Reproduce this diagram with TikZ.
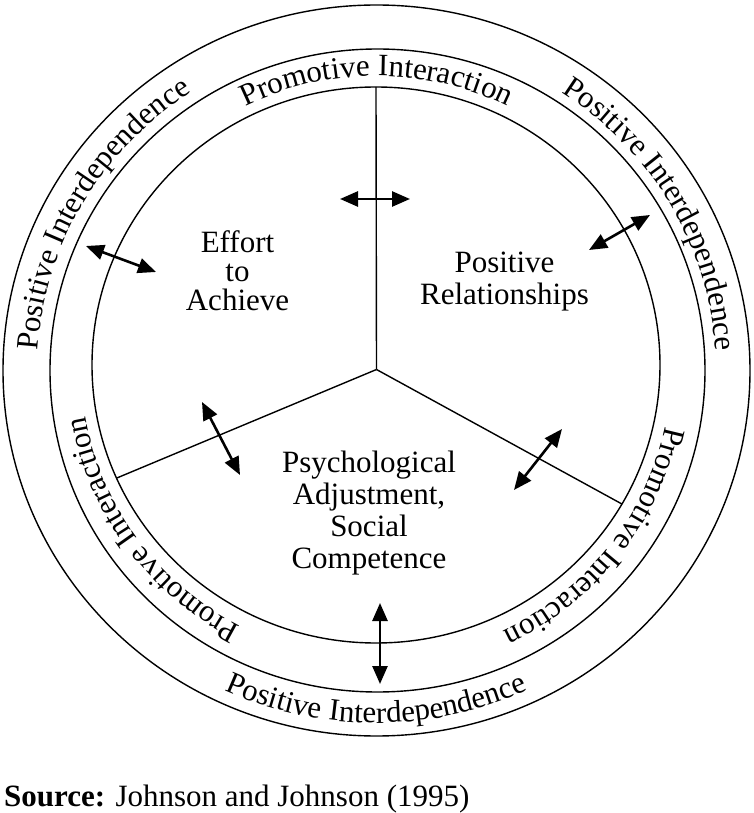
\documentclass[tikz,border=0pt]{standalone}
\usepackage{fontspec}
\setmainfont{Liberation Serif}
\usetikzlibrary{arrows.meta,decorations.text}

\newcommand{\labelsize}{\fontsize{31}{32}\selectfont}

\begin{document}
\begin{tikzpicture}[
    x=1pt, y=1pt,
    ring/.style={line width=1.4pt},
    spoke/.style={line width=1.4pt},
    twoway/.style={{Triangle[length=18pt,width=15pt]}-{Triangle[length=18pt,width=15pt]}, line width=2.6pt},
    blocktext/.style={align=center, font=\labelsize, inner sep=0pt},
    ringtext/.style={decorate, decoration={text along path, text align=center, text={|\labelsize|#1}}},
]
\useasboundingbox (-376.5,-442.5) rectangle (377.5,370.5);

% ── Rings ──
\draw[ring] (0,0) ellipse [x radius=373.5, y radius=365.5];
\draw[ring] (1,0) ellipse [x radius=327.5, y radius=321.5];
\draw[ring] (-0.5,5.5) ellipse [x radius=284, y radius=278];

% ── Spokes ──
\coordinate (hub) at (0,1);
\coordinate (spokeN) at (-0.5,283.5);
\coordinate (spokeSW) at (-259.9,-107.6);
\coordinate (spokeSE) at (245.4,-133.5);
\draw[spoke] (hub) -- (spokeN);
\draw[spoke] (hub) -- (spokeSW);
\draw[spoke] (hub) -- (spokeSE);

% ── Outer ring text ──
\path[ringtext=Positive Interdependence] (200:339.5 and 331.5) arc[start angle=200, end angle=100, x radius=339.5, y radius=331.5];
\path[ringtext=Positive Interdependence] (80:339.5 and 331.5) arc[start angle=80, end angle=-20, x radius=339.5, y radius=331.5];
\path[ringtext=Positive Interdependence] (220:360.5 and 352.5) arc[start angle=220, end angle=320, x radius=360.5, y radius=352.5];

% ── Middle ring text ──
\path[ringtext=Promotive Interaction, shift={(0,3)}] (140:295 and 291.5) arc[start angle=140, end angle=40, x radius=295, y radius=291.5];
\path[ringtext=Promotive Interaction, shift={(0,3)}] (266:295 and 291.5) arc[start angle=266, end angle=166, x radius=295, y radius=291.5];
\path[ringtext=Promotive Interaction, shift={(0,3)}] (12:295 and 291.5) arc[start angle=12, end angle=-88, x radius=295, y radius=291.5];

% ── Sectors ──
\node[blocktext, font=\fontsize{31}{29}\selectfont] (effort) at (-139,99.5) {Effort\\to\\Achieve};
\node[blocktext] (relations) at (128,89) {Positive\\Relationships};
\node[blocktext] (psych) at (-7.5,-142.5) {Psychological\\Adjustment,\\Social\\Competence};

% ── Arrows ──
\coordinate (topW) at (-36.5,171.5);   \coordinate (topE) at (33.5,171.5);
\coordinate (nwOut) at (-290.5,124.5); \coordinate (nwIn) at (-220.5,98.5);
\coordinate (neIn) at (212.5,120.5);   \coordinate (neOut) at (273.5,155.5);
\coordinate (swUp) at (-174.5,-31.5);  \coordinate (swDown) at (-136.5,-104.5);
\coordinate (seDown) at (137.5,-119.5); \coordinate (seUp) at (185.5,-58.5);
\coordinate (botUp) at (3.5,-232.5);   \coordinate (botDown) at (3.5,-313.5);
\draw[twoway] (topW) -- (topE);
\draw[twoway] (nwOut) -- (nwIn);
\draw[twoway] (neIn) -- (neOut);
\draw[twoway] (swUp) -- (swDown);
\draw[twoway] (seDown) -- (seUp);
\draw[twoway] (botUp) -- (botDown);

% ── Source ──
\node[anchor=base west, font=\labelsize, inner sep=0pt] (source) at (-372.5,-435.5) {\textbf{Source:} Johnson and Johnson (1995)};

\end{tikzpicture}
\end{document}
